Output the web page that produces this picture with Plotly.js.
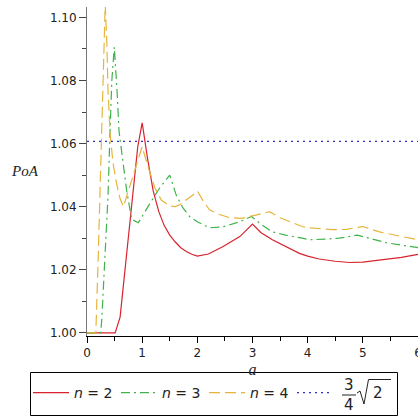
<!DOCTYPE html>
<html>
<head>
<meta charset="utf-8">
<script src="https://cdn.plot.ly/plotly-3.0.1.min.js"></script>
<style>
html,body{margin:0;padding:0;background:#fff;}
#chart{width:418px;height:416px;}
</style>
</head>
<body>
<div id="chart"></div>
<script>
// n = 2
var aN2 = [0, 0.51, 0.6, 0.69, 0.77, 0.85, 0.92, 1.0, 1.1, 1.2, 1.3, 1.4, 1.5, 1.6, 1.7, 1.8, 1.9, 2.0, 2.2, 2.46, 2.77, 3.0, 3.15, 3.36, 3.67, 3.85, 4.0, 4.21, 4.5, 4.76, 5.0, 5.35, 5.7, 6.0];
var poaN2 = [1.0, 1.0, 1.005, 1.02, 1.033, 1.047, 1.059, 1.0666, 1.055, 1.045, 1.0385, 1.034, 1.031, 1.0288, 1.027, 1.0258, 1.0249, 1.0243, 1.025, 1.0273, 1.0305, 1.0345, 1.0318, 1.0295, 1.0268, 1.0252, 1.0243, 1.0234, 1.0227, 1.0223, 1.0224, 1.0231, 1.0239, 1.0249];
// n = 3
var aN3 = [0, 0.25, 0.27, 0.29, 0.33, 0.38, 0.42, 0.45, 0.495, 0.52, 0.55, 0.58, 0.65, 0.72, 0.81, 0.93, 1.14, 1.32, 1.5, 1.62, 1.74, 1.86, 2.0, 2.22, 2.46, 2.77, 2.98, 3.15, 3.36, 3.6, 3.9, 4.03, 4.3, 4.57, 4.9, 5.15, 5.42, 5.7, 6.0];
var poaN3 = [1.0, 1.0, 1.005, 1.012, 1.025, 1.043, 1.065, 1.08, 1.0906, 1.084, 1.075, 1.064, 1.055, 1.045, 1.036, 1.0349, 1.041, 1.046, 1.050, 1.0435, 1.0396, 1.0369, 1.0352, 1.0333, 1.0336, 1.0352, 1.0369, 1.0345, 1.032, 1.031, 1.030, 1.0295, 1.0297, 1.030, 1.031, 1.0298, 1.0286, 1.0278, 1.027];
// n = 4
var aN4 = [0, 0.16, 0.2, 0.25, 0.3, 0.33, 0.36, 0.38, 0.42, 0.47, 0.54, 0.6, 0.66, 0.75, 0.85, 1.0, 1.1, 1.23, 1.35, 1.5, 1.6, 1.68, 1.92, 2.0, 2.1, 2.22, 2.4, 2.59, 2.8, 2.95, 3.1, 3.31, 3.5, 3.67, 3.9, 4.03, 4.25, 4.45, 4.7, 5.0, 5.3, 5.6, 5.9, 6.0];
var poaN4 = [1.0, 1.0, 1.022, 1.052, 1.082, 1.104, 1.092, 1.077, 1.063, 1.054, 1.047, 1.0425, 1.040, 1.045, 1.051, 1.059, 1.053, 1.046, 1.042, 1.0402, 1.040, 1.0406, 1.0437, 1.045, 1.042, 1.039, 1.0375, 1.0365, 1.0363, 1.0368, 1.0375, 1.0384, 1.0365, 1.0353, 1.0337, 1.0333, 1.033, 1.0327, 1.0328, 1.0337, 1.032, 1.031, 1.030, 1.0295];
// 3/4 sqrt(2)
var aRef = [0, 6];
var poaRef = [1.0607, 1.0607];

var xTicks = [0, 1, 2, 3, 4, 5, 6];
var yTicks = [1.00, 1.02, 1.04, 1.06, 1.08, 1.10];

// pixel helpers for legend decorations (plot area: x 87..418, y 7..336)
function px(p) { return (p - 87) / 331; }
function py(p) { return (336 - p) / 329; }

var tickFont = {family: 'DejaVu Sans, sans-serif', size: 12, color: '#222'};
var legFont = {family: 'DejaVu Sans, sans-serif', size: 14, color: '#222'};
var fracFont = {family: 'DejaVu Sans, sans-serif', size: 15, color: '#222'};

var traces = [
  {x: aN2, y: poaN2, mode: 'lines', name: '<i>n</i> = 2', line: {color: '#d8232f', width: 1.2}},
  {x: aN3, y: poaN3, mode: 'lines', name: '<i>n</i> = 3', line: {color: '#3fb34a', width: 1.2, dash: '9px,4px,2px,4px'}},
  {x: aN4, y: poaN4, mode: 'lines', name: '<i>n</i> = 4', line: {color: '#e6b43c', width: 1.2, dash: '11px,5px'}},
  {x: aRef, y: poaRef, mode: 'lines', name: '\u00a0', line: {color: '#3030c0', width: 1.2, dash: '2px,4px'}}
];

var radical = 'M' + px(357) + ',' + py(393) + ' L' + px(360) + ',' + py(391) +
              ' L' + px(364) + ',' + py(404) + ' L' + px(368.5) + ',' + py(379.5) +
              ' L' + px(391) + ',' + py(379.5);

var layout = {
  width: 418, height: 416,
  margin: {l: 87, r: 0, t: 7, b: 80, autoexpand: false},
  paper_bgcolor: '#fff', plot_bgcolor: '#fff',
  showlegend: true,
  legend: {
    orientation: 'h', x: px(28), xanchor: 'left', y: py(377), yanchor: 'top',
    borderwidth: 0, bgcolor: 'rgba(0,0,0,0)',
    font: legFont,
    itemwidth: 36, entrywidth: 37, entrywidthmode: 'pixels'
  },
  xaxis: {
    range: [0, 6.0], showgrid: false, zeroline: false,
    showline: true, linecolor: '#000', linewidth: 1,
    tickmode: 'array', tickvals: xTicks, ticktext: xTicks.map(String),
    ticks: 'outside', ticklen: 6, tickcolor: '#000',
    minor: {dtick: 0.5, ticks: 'outside', ticklen: 4, tickcolor: '#000'},
    tickfont: tickFont, ticklabeloverflow: 'allow',
    title: {text: '<i>a</i>', font: {family: 'Liberation Serif, serif', size: 16, color: '#222'}, standoff: 4},
    automargin: false
  },
  yaxis: {
    range: [0.999, 1.1033], showgrid: false, zeroline: false,
    showline: true, linecolor: '#777', linewidth: 1,
    tickmode: 'array', tickvals: yTicks, ticktext: yTicks.map(function(v){return v.toFixed(2);}),
    ticks: 'outside', ticklen: 7, tickcolor: '#444',
    minor: {dtick: 0.01, ticks: 'outside', ticklen: 4, tickcolor: '#444'},
    tickfont: tickFont,
    automargin: false
  },
  shapes: [
    // legend frame
    {type: 'rect', xref: 'paper', yref: 'paper', x0: px(30.5), x1: px(397.5), y0: py(372.5), y1: py(415.5),
     line: {color: '#000', width: 1}, fillcolor: '#fff', layer: 'above'},
    // fraction bar
    {type: 'line', xref: 'paper', yref: 'paper', x0: px(342), x1: px(356), y0: py(395), y1: py(395),
     line: {color: '#222', width: 1}, layer: 'above'},
    // radical sign
    {type: 'path', xref: 'paper', yref: 'paper', path: radical,
     line: {color: '#222', width: 1}, layer: 'above'}
  ],
  annotations: [
    {text: '<i>PoA</i>', xref: 'paper', yref: 'paper', x: px(25), y: py(171), xanchor: 'center', yanchor: 'middle', showarrow: false,
     font: {family: 'Liberation Serif, serif', size: 15, color: '#222'}},
    {text: '3', xref: 'paper', yref: 'paper', x: px(349), y: py(385), xanchor: 'center', yanchor: 'middle', showarrow: false, font: fracFont},
    {text: '4', xref: 'paper', yref: 'paper', x: px(349), y: py(405), xanchor: 'center', yanchor: 'middle', showarrow: false, font: fracFont},
    {text: '2', xref: 'paper', yref: 'paper', x: px(378), y: py(393), xanchor: 'center', yanchor: 'middle', showarrow: false, font: fracFont}
  ]
};

Plotly.newPlot('chart', traces, layout, {displayModeBar: false, staticPlot: true});
</script>
</body>
</html>
